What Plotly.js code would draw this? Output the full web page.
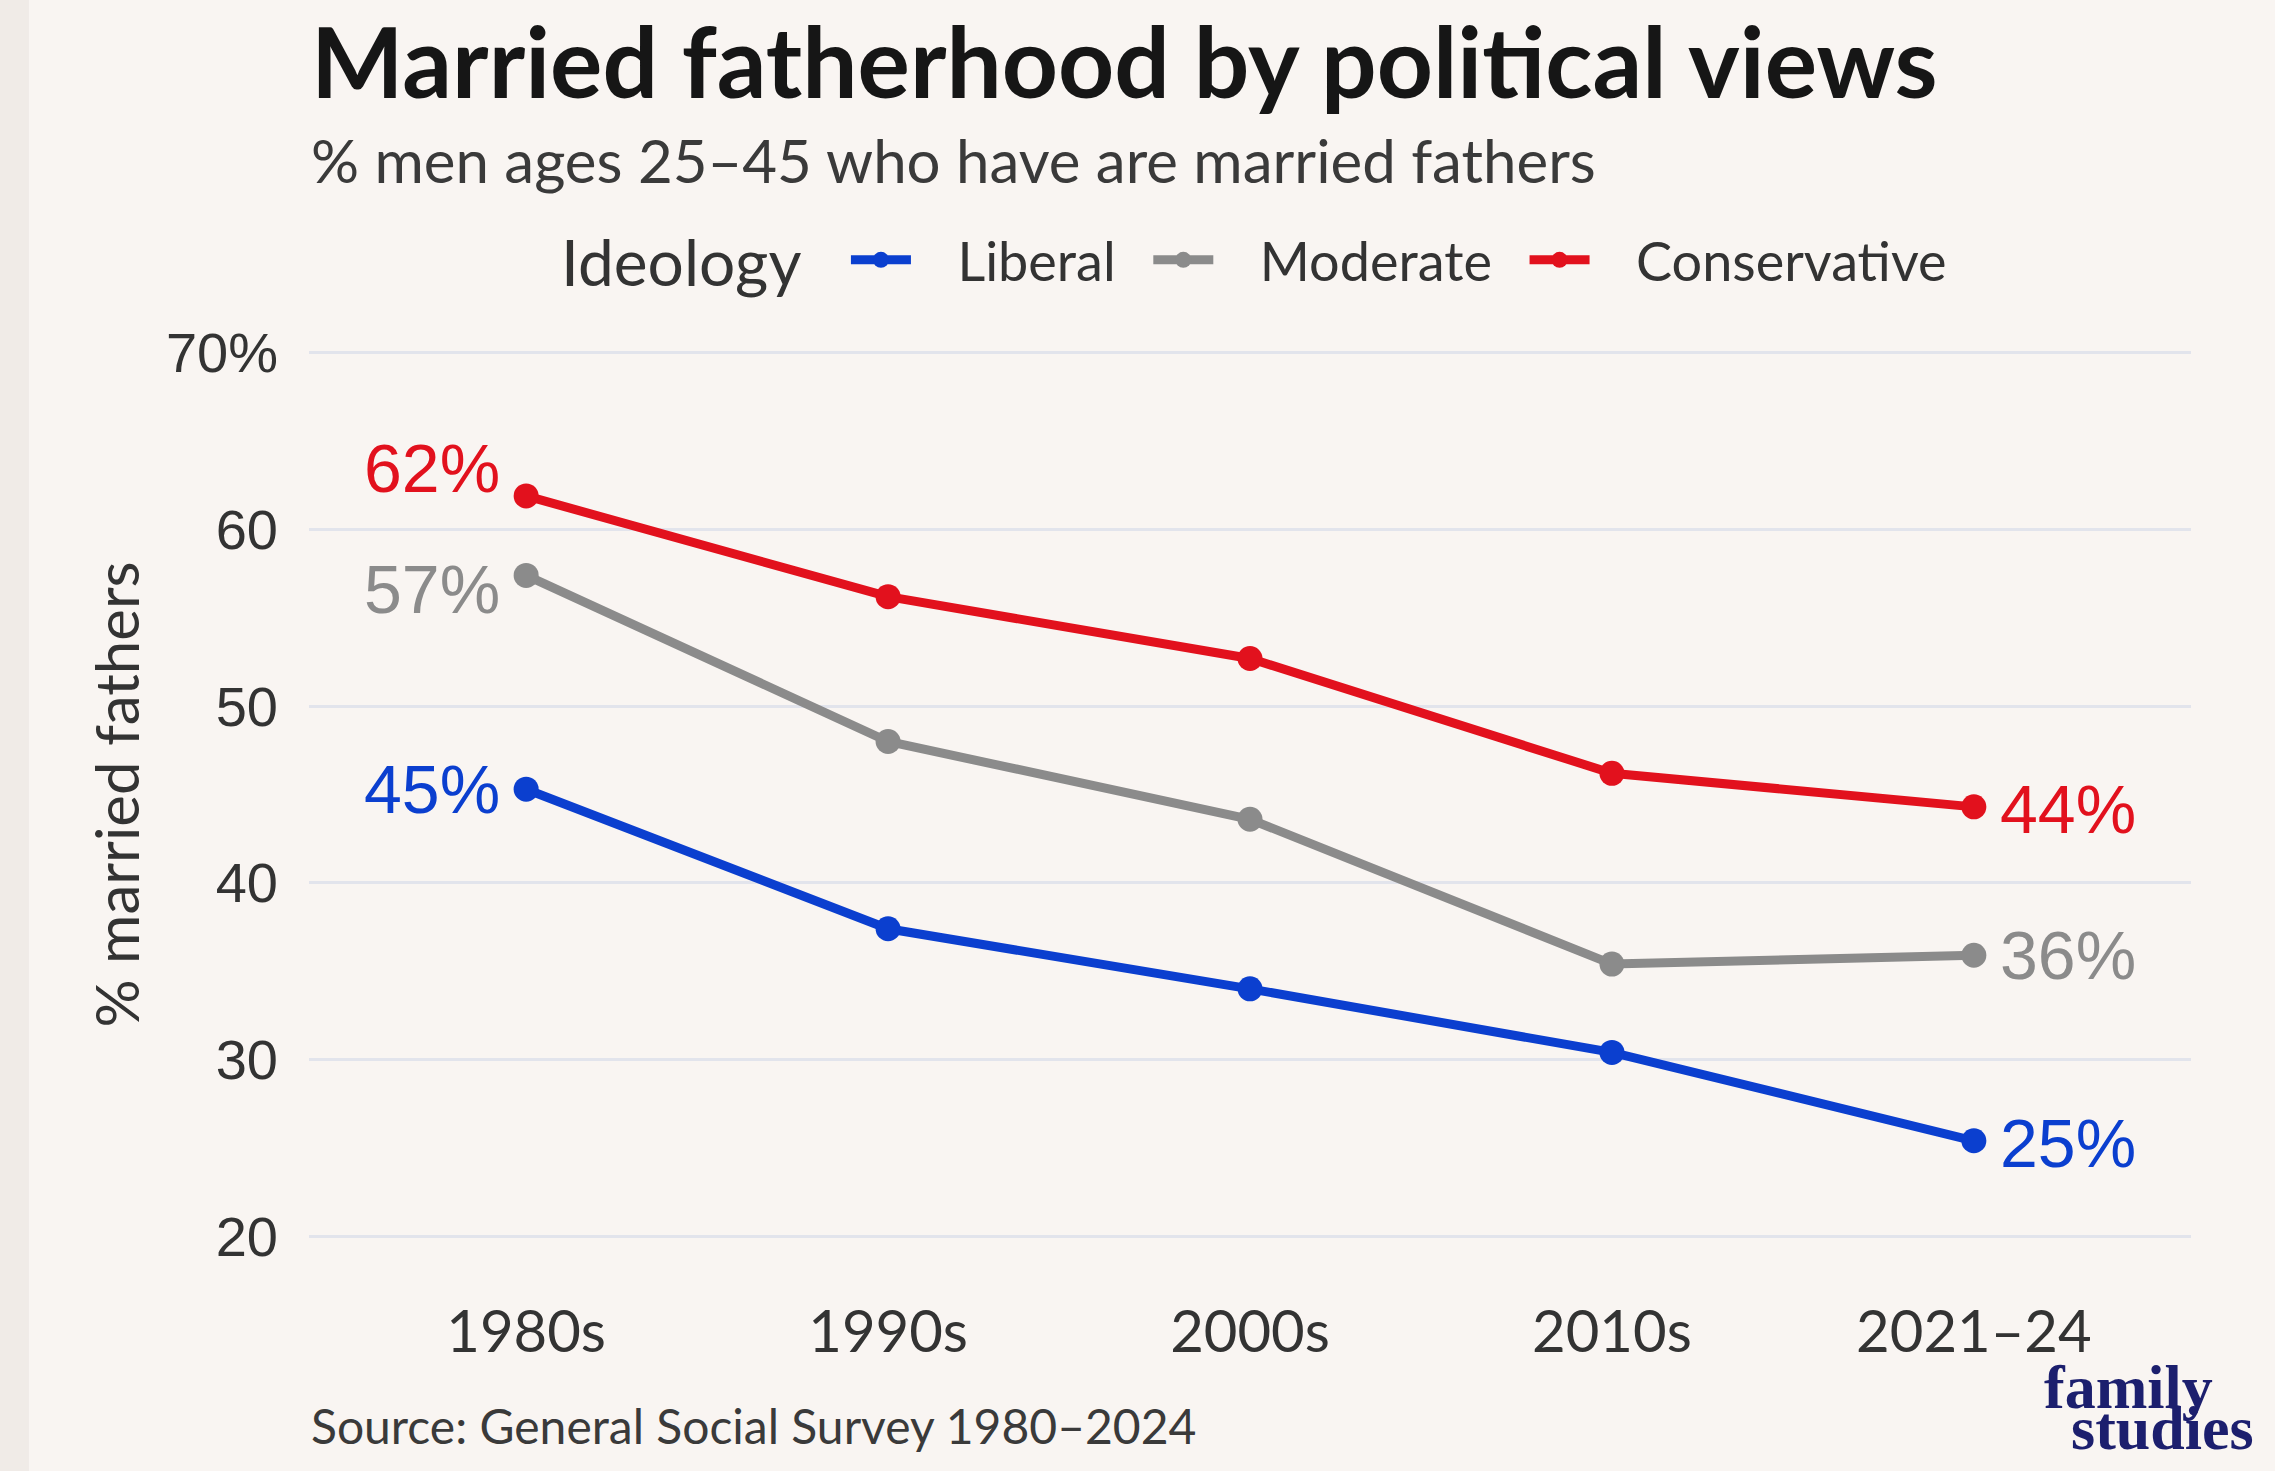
<!DOCTYPE html>
<html>
<head>
<meta charset="utf-8">
<script src="https://cdn.plot.ly/plotly-3.0.1.min.js"></script>
<style>
html,body{margin:0;padding:0;background:#f9f5f2;}
#chart{width:2275px;height:1471px;}
</style>
</head>
<body>
<div id="chart"></div>
<script>
// ---- Data ----
const categories = ["1980s", "1990s", "2000s", "2010s", "2021–24"];
const liberal = [45.3, 37.4, 34.0, 30.4, 25.4];
const moderate = [57.4, 48.0, 43.6, 35.4, 35.9];
const conservative = [61.9, 56.2, 52.7, 46.2, 44.3];
const seriesNames = ["Liberal", "Moderate", "Conservative"];
const yTickVals = [20, 30, 40, 50, 60, 70];
const yTickText = ["20", "30", "40", "50", "60", "70%"];

const colors = {Liberal: "#0b3fcf", Moderate: "#8b8b8b", Conservative: "#e2111d"};
const seriesData = {Liberal: liberal, Moderate: moderate, Conservative: conservative};
const NB = "\u00a0";
const legendLead = 3;
const legendTrail = {Liberal: 2, Moderate: 2, Conservative: 0};

const traces = seriesNames.map(name => ({
  type: "scatter",
  mode: "lines+markers",
  name: NB.repeat(legendLead) + name + NB.repeat(legendTrail[name]),
  x: categories,
  y: seriesData[name],
  line: {color: colors[name], width: 9},
  marker: {color: colors[name], size: 25},
  hoverinfo: "skip"
}));

// label offsets (style only)
const leftShift = {Liberal: 0, Moderate: -14, Conservative: 28};
const rightShift = {Liberal: -2, Moderate: 0, Conservative: -2};

const annotations = [];
seriesNames.forEach(name => {
  const vals = seriesData[name];
  const last = vals.length - 1;
  annotations.push({
    xref: "x", yref: "y", x: categories[0], y: vals[0],
    text: Math.round(vals[0]) + "%", showarrow: false,
    xanchor: "right", yanchor: "middle", xshift: -24, yshift: leftShift[name],
    font: {family: "Liberation Sans, Arial, sans-serif", size: 68, color: colors[name]}
  });
  annotations.push({
    xref: "x", yref: "y", x: categories[last], y: vals[last],
    text: Math.round(vals[last]) + "%", showarrow: false,
    xanchor: "left", yanchor: "middle", xshift: 24, yshift: rightShift[name],
    font: {family: "Liberation Sans, Arial, sans-serif", size: 68, color: colors[name]}
  });
});

// titles & texts
annotations.push(
  {xref: "paper", yref: "paper", x: 0, y: 1.315, xanchor: "left", yanchor: "middle", showarrow: false,
   text: "<b>Married fatherhood by political views</b>",
   font: {family: "Lato, sans-serif", size: 98, color: "#161616"}},
  {xref: "paper", yref: "paper", x: 0, y: 1.204, xanchor: "left", yanchor: "middle", showarrow: false,
   text: "% men ages 25–45 who have are married fathers",
   font: {family: "Lato, sans-serif", size: 60, color: "#3a3a3a"}},
  {xref: "paper", yref: "paper", x: 0.1328, y: 1.092, xanchor: "left", yanchor: "middle", showarrow: false,
   text: "Ideology",
   font: {family: "Lato, sans-serif", size: 64, color: "#333333"}},
  {xref: "paper", yref: "paper", x: -0.1026, y: 0.5, xanchor: "center", yanchor: "middle", showarrow: false,
   textangle: -90, text: "% married fathers",
   font: {family: "Lato, sans-serif", size: 60, color: "#333333"}},
  {xref: "paper", yref: "paper", x: 0, y: -0.2, xanchor: "left", yanchor: "middle", showarrow: false,
   text: "Source: General Social Survey 1980–2024",
   font: {family: "Lato, sans-serif", size: 48, color: "#3a3a3a"}},
  {xref: "paper", yref: "paper", x: 0.967, y: -0.158, xanchor: "center", yanchor: "middle", showarrow: false,
   text: "<b>family</b>",
   font: {family: "Liberation Serif, serif", size: 62, color: "#1c1f6e"}},
  {xref: "paper", yref: "paper", x: 0.985, y: -0.203, xanchor: "center", yanchor: "middle", showarrow: false,
   text: "<b>studies</b>",
   font: {family: "Liberation Serif, serif", size: 62, color: "#1c1f6e"}}
);

const layout = {
  width: 2275, height: 1471,
  paper_bgcolor: "#f9f5f2", plot_bgcolor: "#f9f5f2",
  margin: {l: 309, r: 84, t: 344, b: 226},
  showlegend: true,
  legend: {
    orientation: "h", x: 0.2853, xanchor: "left", y: 1.093, yanchor: "middle",
    font: {family: "Lato, sans-serif", size: 54, color: "#333333"},
    bgcolor: "rgba(0,0,0,0)", itemwidth: 60
  },
  xaxis: {
    type: "category", range: [-0.6, 4.6], showgrid: false, zeroline: false, showline: false,
    ticks: "", ticklabelstandoff: 48,
    tickfont: {family: "Lato, sans-serif", size: 58, color: "#333333"}
  },
  yaxis: {
    range: [19.5, 70.5], tickvals: yTickVals, ticktext: yTickText,
    showgrid: true, gridcolor: "#e2e4ec", gridwidth: 3, zeroline: false, showline: false,
    ticks: "", ticklabelstandoff: 30,
    tickfont: {family: "Liberation Sans, Arial, sans-serif", size: 56, color: "#333333"}
  },
  shapes: [
    {type: "rect", xref: "paper", yref: "paper", x0: -0.1642, x1: -0.1488, y0: -0.3, y1: 1.4,
     fillcolor: "#f0ebe7", line: {width: 0}, layer: "below"}
  ],
  annotations: annotations
};

Plotly.newPlot("chart", traces, layout, {staticPlot: true, displayModeBar: false});
</script>
</body>
</html>
